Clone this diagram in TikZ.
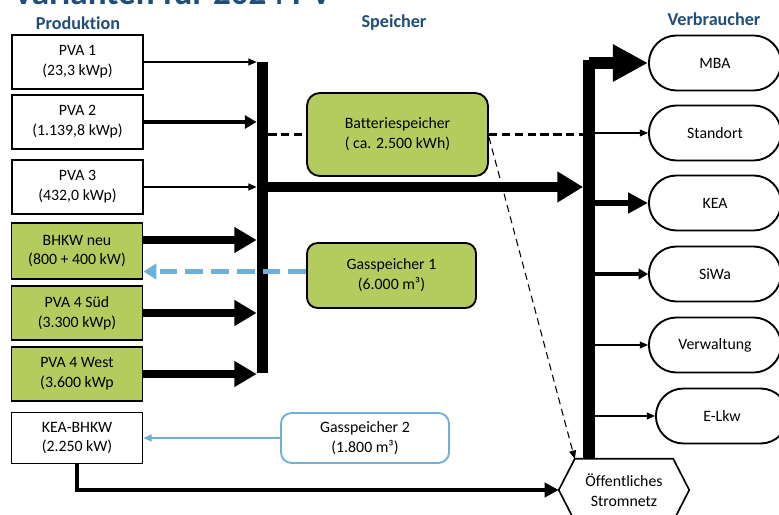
\documentclass[tikz,border=0pt]{standalone}
\usepackage{fontspec}
\setmainfont{Carlito}[Ligatures=NoCommon]
\usetikzlibrary{arrows.meta,shapes.misc}

\begin{document}
\begin{tikzpicture}[x=0.03cm,y=-0.03cm,
	font=\fontsize{13.5}{17}\selectfont,
	prod/.style={draw,line width=1.6pt,minimum width=3.93cm,minimum height=1.6cm,align=center,inner sep=0pt},
	stor/.style={draw,line width=1.6pt,rounded corners=9pt,align=center,inner sep=0pt},
	cons/.style={draw,line width=1.6pt,rounded rectangle,minimum width=4.2cm,minimum height=1.65cm},
	head/.style={font=\fontsize{15.5}{18}\selectfont\bfseries,text=Navy},
	bus/.style={fill=black,inner sep=0pt,minimum width=0.34cm},
	lowflow/.style={line width=0.9pt,-{Triangle[length=7pt,width=6pt]}},
	midflow/.style={line width=3.4pt,-{Triangle[length=10pt,width=11pt]}},
	highflow/.style={line width=6.5pt,-{Triangle[length=19pt,width=21pt]}},
	maxflow/.style={line width=8pt,-{Triangle[length=22pt,width=25pt]}}]
\definecolor{Navy}{RGB}{31,78,121}
\definecolor{Olive}{RGB}{180,204,94}
\definecolor{Sky}{RGB}{110,176,216}
\useasboundingbox (0,0) rectangle (779,515);
\clip (0,0) rectangle (779,515);

%% Title (cut off at the top)
\node[anchor=base west,font=\fontsize{30}{32}\selectfont\bfseries,text=Navy] (title) at (9,5) {Varianten für 2024 PV};

%% Headers
\node[head] (hprod) at (78,23) {Produktion};
\node[head] (hspei) at (394,23) {Speicher};
\node[head] (hverb) at (714,19) {Verbraucher};

%% Produktion
\node[prod] (pva1) at (77.5,62) {PVA 1\\(23,3 kWp)};
\node[prod] (pva2) at (77.5,122) {PVA 2\\(1.139,8 kWp)};
\node[prod] (pva3) at (77.5,187) {PVA 3\\(432,0 kWp)};
\node[prod,fill=Olive,minimum height=1.68cm] (bhkw) at (77,251) {BHKW neu\\(800 + 400 kW)};
\node[prod,fill=Olive] (pvasued) at (77,313) {PVA 4 Süd\\(3.300 kWp)};
\node[prod,fill=Olive] (pvawest) at (77,374) {PVA 4 West\\(3.600 kWp};
\node[prod,minimum height=1.53cm] (keabhkw) at (77,438) {KEA-BHKW\\(2.250 kW)};

%% Speicher
\node[stor,fill=Olive,minimum width=5.43cm,minimum height=2.49cm,rounded corners=11pt] (batt) at (397.5,134.5) {Batteriespeicher\\( ca. 2.500 kWh)};
\node[stor,fill=Olive,minimum width=5.07cm,minimum height=1.95cm] (gas1) at (391.5,275.5) {Gasspeicher 1\\(6.000 m³)};
\node[stor,draw=Sky,minimum width=5.04cm,minimum height=1.5cm] (gas2) at (365,438) {Gasspeicher 2\\(1.800 m³)};

%% Verbraucher
\node[cons] (mba) at (715,63) {MBA};
\node[cons] (standort) at (715,133) {Standort};
\node[cons] (kea) at (715,203) {KEA};
\node[cons] (siwa) at (715,274) {SiWa};
\node[cons] (verwaltung) at (715,345) {Verwaltung};
\node[cons] (elkw) at (722,416) {E-Lkw};

%% Oeffentliches Netz
\node[minimum width=3.9cm,minimum height=1.86cm,align=center] (netz) at (624,490) {Öffentliches\\Stromnetz};
\draw[line width=1.4pt] ([xshift=0.48cm]netz.north west) coordinate (netznw)
	-- ([xshift=-0.48cm]netz.north east) -- (netz.east)
	-- ([xshift=-0.48cm]netz.south east) -- ([xshift=0.48cm]netz.south west)
	-- (netz.west) -- cycle;

%% Sammelschienen
\node[bus,minimum height=9.33cm] (busL) at (262.5,217.5) {};
\node[bus,minimum height=11.97cm] (busR) at (589,259.5) {};

%% Einspeisung
\draw[lowflow] (pva1.east) -- (pva1.east -| busL.west);
\draw[midflow] (pva2.east) -- (pva2.east -| busL.west);
\draw[lowflow] (pva3.east) -- (pva3.east -| busL.west);
\draw[highflow] ([yshift=0.33cm]bhkw.east) -- ([yshift=0.33cm]bhkw.east -| busL.west);
\draw[highflow] (pvasued.east) -- (pvasued.east -| busL.west);
\draw[highflow] (pvawest.east) -- (pvawest.east -| busL.west);

%% Gas
\draw[Sky,line width=4.3pt,dash pattern=on 15pt off 7pt,-{Triangle[length=11pt,width=13pt]}]
	([yshift=0.12cm]gas1.west) -- ([yshift=0.12cm]gas1.west -| bhkw.east);
\draw[Sky,line width=1pt,-{Triangle[length=7pt,width=6pt]}] (gas2.west) -- (gas2.west -| keabhkw.east);

%% Batterie
\draw[line width=2.5pt,dash pattern=on 7pt off 4pt] (busL.east |- batt.west) -- (batt.west);
\draw[line width=2.5pt,dash pattern=on 7pt off 4pt] (batt.east) -- (batt.east -| busR.west);
\draw[line width=0.9pt,dash pattern=on 6pt off 4pt,-{Triangle[length=7pt,width=6pt]}]
	([yshift=-0.08cm]batt.east) -- (netznw);

%% Hauptfluss
\draw[maxflow] (pva3.east -| busL.east) -- (pva3.east -| busR.west);
\draw[midflow,-{Triangle[length=12pt,width=12pt]}] (keabhkw.south) -- (keabhkw.south |- netz.west) -- (netz.west);

%% Verbrauch
\draw[line width=9.5pt,-{Triangle[length=30pt,width=30pt]}] (busR.north |- mba.west) -- (mba.west);
\draw[lowflow] (busR.east |- standort.west) -- (standort.west);
\draw[line width=5pt,-{Triangle[length=17pt,width=17pt]}] (busR.east |- kea.west) -- (kea.west);
\draw[line width=2.6pt,-{Triangle[length=8pt,width=9pt]}] (busR.east |- siwa.west) -- (siwa.west);
\draw[lowflow] (busR.east |- verwaltung.west) -- (verwaltung.west);
\draw[lowflow] (busR.east |- elkw.west) -- (elkw.west);
\end{tikzpicture}
\end{document}
